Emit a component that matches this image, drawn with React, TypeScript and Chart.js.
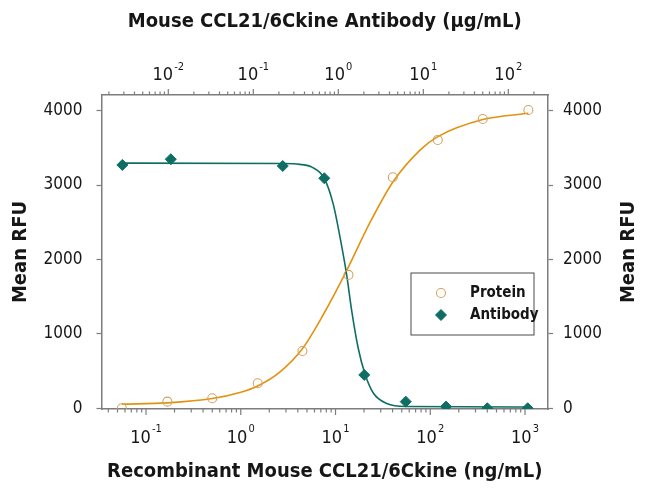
import React, { useEffect, useRef } from 'react';
import { Chart, registerables } from 'chart.js';
import { drawPoint } from 'chart.js/helpers';

Chart.register(...registerables);

// ---- data ----
// Recombinant Mouse CCL21/6Ckine (ng/mL), bottom axis
const proteinConc = [0.0555, 0.168, 0.5, 1.51, 4.47, 13.7, 40.2, 120, 358, 1085];
const proteinRFU = [0, 89, 134, 336, 770, 1792, 3105, 3606, 3888, 4009];
// fitted curve (protein)
const proteinFitConc = [0.0555, 0.168, 0.5, 1.0, 1.51, 2.6, 4.47, 7.44, 13.1, 23.2, 40.8, 78, 120, 358, 1085];
const proteinFitRFU = [55, 72, 130, 215, 300, 490, 800, 1260, 1850, 2500, 3050, 3470, 3650, 3880, 3965];

// Mouse CCL21/6Ckine Antibody (µg/mL), top axis
const antibodyConc = [0.00288, 0.0107, 0.222, 0.684, 2.02, 6.21, 18.5, 56.6, 169];
const antibodyRFU = [3270, 3347, 3256, 3091, 448, 89, 22, 0, 0];
// fitted curve (antibody)
const antibodyFitConc = [0.00288, 0.225, 0.354, 0.49, 0.679, 0.873, 1.047, 1.255, 1.438, 1.72, 2.06, 2.58, 3.71, 6.38, 170];
const antibodyFitRFU = [3295, 3290, 3278, 3240, 3095, 2740, 2300, 1790, 1310, 800, 460, 205, 65, 24, 17];

const yTickValues = [0, 1000, 2000, 3000, 4000];

const seriesLabels = ['Protein', 'Antibody'];
const bottomTitle = 'Recombinant Mouse CCL21/6Ckine (ng/mL)';
const topTitle = 'Mouse CCL21/6Ckine Antibody (\u03BCg/mL)';
const yTitle = 'Mean RFU';

// ---- styles ----
const FONT = "'Liberation Sans Narrow', 'DejaVu Sans Condensed', 'Arial Narrow', sans-serif";
const AXIS = '#7d7d7d';
const TEXT = '#161616';
const ORANGE_LINE = '#e3920f';
const ORANGE_PT = '#d2a462';
const TEAL = '#0f6e64';
const TITLE_SIZE = 20;

Chart.defaults.font.family = FONT;

function logTicks(scale: any) {
  const out: any[] = [];
  const lo = Math.floor(Math.log10(scale.min));
  const hi = Math.ceil(Math.log10(scale.max));
  for (let e = lo; e <= hi; e++) {
    for (let d = 1; d <= 9; d++) {
      const v = d * Math.pow(10, e);
      if (v >= scale.min && v <= scale.max) out.push({ value: v, major: d === 1 });
    }
  }
  scale.ticks = out;
}

const logAxisPlugin = {
  id: 'logAxisLabels',
  afterDraw(chart: any) {
    const ctx = chart.ctx;
    ['x', 'x2'].forEach((id) => {
      const s = chart.scales[id];
      const isTop = s.options.position === 'top';
      const edge = isTop ? s.bottom : s.top;
      ctx.save();
      ctx.strokeStyle = AXIS;
      ctx.lineWidth = 1.2;
      ctx.fillStyle = TEXT;
      s.ticks.forEach((t: any) => {
        const px = s.getPixelForValue(t.value);
        const len = t.major ? 6 : 3.5;
        ctx.beginPath();
        ctx.moveTo(px, edge);
        ctx.lineTo(px, isTop ? edge - len : edge + len);
        ctx.stroke();
        if (t.major) {
          const exp = String(Math.round(Math.log10(t.value)));
          ctx.font = `18px ${FONT}`;
          const wb = ctx.measureText('10').width;
          ctx.font = `11px ${FONT}`;
          const we = ctx.measureText(exp).width;
          const x0 = px - (wb + we + 1) / 2;
          const baseY = isTop ? edge - 20 : edge + 29;
          const expY = isTop ? edge - 28 : edge + 20;
          ctx.textBaseline = 'middle';
          ctx.textAlign = 'left';
          ctx.font = `18px ${FONT}`;
          ctx.fillText('10', x0, baseY);
          ctx.font = `11px ${FONT}`;
          ctx.fillText(exp, x0 + wb + 1, expY);
        }
      });
      ctx.restore();
    });
    // right-hand axis title, reading upward like the left one
    const r = chart.scales.y2;
    ctx.save();
    ctx.translate(629, (r.top + r.bottom) / 2);
    ctx.rotate(-Math.PI / 2);
    ctx.font = `bold ${TITLE_SIZE}px ${FONT}`;
    ctx.fillStyle = TEXT;
    ctx.textAlign = 'center';
    ctx.textBaseline = 'middle';
    ctx.fillText(yTitle, 0, 0);
    ctx.restore();
  },
};

const legendPlugin = {
  id: 'boxLegend',
  afterDraw(chart: any) {
    const { ctx, chartArea } = chart;
    const left = chartArea.right - 137;
    const top = chartArea.top + 178;
    const w = 123;
    const h = 62;
    ctx.save();
    ctx.strokeStyle = '#4a4a4a';
    ctx.lineWidth = 1;
    ctx.strokeRect(left, top, w, h);
    const idx = [0, 2];
    idx.forEach((di, i) => {
      const ds = chart.data.datasets[di];
      const y = top + 20 + i * 22;
      ctx.save();
      ctx.fillStyle = ds.pointBackgroundColor;
      ctx.strokeStyle = ds.pointBorderColor;
      ctx.lineWidth = ds.pointBorderWidth;
      drawPoint(ctx, { pointStyle: ds.pointStyle, radius: ds.pointRadius, borderWidth: ds.pointBorderWidth, rotation: 0 } as any, left + 30, y);
      ctx.restore();
      ctx.fillStyle = TEXT;
      ctx.font = `bold 15px ${FONT}`;
      ctx.textBaseline = 'middle';
      ctx.textAlign = 'left';
      ctx.fillText(ds.label, left + 59, y);
    });
    ctx.restore();
  },
};

const titleFont = { size: TITLE_SIZE, weight: 'bold' as const, family: FONT };
const yTickFont = { size: 17, family: FONT };

export default function App() {
  const ref = useRef<HTMLCanvasElement>(null);
  useEffect(() => {
    if (!ref.current) return;
    const chart = new Chart(ref.current, {
      type: 'scatter',
      data: {
        datasets: [
          {
            label: seriesLabels[0],
            data: proteinConc.map((x, i) => ({ x, y: proteinRFU[i] })),
            xAxisID: 'x',
            yAxisID: 'y',
            showLine: false,
            pointStyle: 'circle',
            pointRadius: 4.5,
            pointBorderWidth: 1.1,
            pointBackgroundColor: 'rgba(0,0,0,0)',
            pointBorderColor: ORANGE_PT,
            order: 1,
          } as any,
          {
            label: 'Protein fit',
            type: 'line',
            data: proteinFitConc.map((x, i) => ({ x, y: proteinFitRFU[i] })),
            xAxisID: 'x',
            yAxisID: 'y',
            borderColor: ORANGE_LINE,
            borderWidth: 1.6,
            pointRadius: 0,
            fill: false,
            cubicInterpolationMode: 'monotone',
            order: 3,
          } as any,
          {
            label: seriesLabels[1],
            data: antibodyConc.map((x, i) => ({ x, y: antibodyRFU[i] })),
            xAxisID: 'x2',
            yAxisID: 'y',
            showLine: false,
            pointStyle: 'rectRot',
            pointRadius: 5.5,
            pointBorderWidth: 1,
            pointBackgroundColor: TEAL,
            pointBorderColor: TEAL,
            order: 0,
          } as any,
          {
            label: 'Antibody fit',
            type: 'line',
            data: antibodyFitConc.map((x, i) => ({ x, y: antibodyFitRFU[i] })),
            xAxisID: 'x2',
            yAxisID: 'y',
            borderColor: TEAL,
            borderWidth: 1.6,
            pointRadius: 0,
            fill: false,
            cubicInterpolationMode: 'monotone',
            order: 2,
          } as any,
        ],
      },
      options: {
        responsive: false,
        animation: false,
        layout: { padding: 0 },
        plugins: { legend: { display: false }, tooltip: { enabled: false } },
        scales: {
          x: {
            type: 'logarithmic',
            position: 'bottom',
            min: 0.0339,
            max: 1748,
            afterBuildTicks: logTicks,
            afterFit: (s: any) => { s.height = 92; },
            ticks: { display: false },
            grid: { display: false },
            border: { display: true, color: AXIS, width: 1.5 },
            title: { display: true, text: bottomTitle, color: TEXT, font: titleFont, padding: { top: 0, bottom: 17 } },
          },
          x2: {
            type: 'logarithmic',
            position: 'top',
            min: 0.001637,
            max: 293,
            afterBuildTicks: logTicks,
            afterFit: (s: any) => { s.height = 95; },
            ticks: { display: false },
            grid: { display: false },
            border: { display: true, color: AXIS, width: 1.5 },
            title: { display: true, text: topTitle, color: TEXT, font: titleFont, padding: { top: 10, bottom: 0 } },
          },
          y: {
            type: 'linear',
            position: 'left',
            min: -10,
            max: 4210,
            afterBuildTicks: (s: any) => { s.ticks = yTickValues.map((v) => ({ value: v })); },
            afterFit: (s: any) => { s.width = 101.5; },
            ticks: { color: TEXT, font: yTickFont, padding: 14, callback: (v: any) => String(v) },
            grid: { drawOnChartArea: false, tickLength: 5, tickColor: AXIS, tickWidth: 1.2 },
            border: { display: true, color: AXIS, width: 1.5 },
            title: { display: true, text: yTitle, color: TEXT, font: titleFont, padding: { top: 9, bottom: 0 } },
          },
          y2: {
            type: 'linear',
            position: 'right',
            min: -10,
            max: 4210,
            afterBuildTicks: (s: any) => { s.ticks = yTickValues.map((v) => ({ value: v })); },
            afterFit: (s: any) => { s.width = 102; },
            ticks: { color: TEXT, font: yTickFont, padding: 10, callback: (v: any) => String(v) },
            grid: { drawOnChartArea: false, tickLength: 5, tickColor: AXIS, tickWidth: 1.2 },
            border: { display: true, color: AXIS, width: 1.5 },
            title: { display: false },
          },
        },
      } as any,
      plugins: [logAxisPlugin, legendPlugin],
    });
    return () => chart.destroy();
  }, []);
  return (
    <div style={{ position: 'absolute', left: 0, top: 0, width: 650, height: 501, background: '#fff' }}>
      <canvas ref={ref} width={650} height={501} style={{ display: 'block' }} />
    </div>
  );
}
